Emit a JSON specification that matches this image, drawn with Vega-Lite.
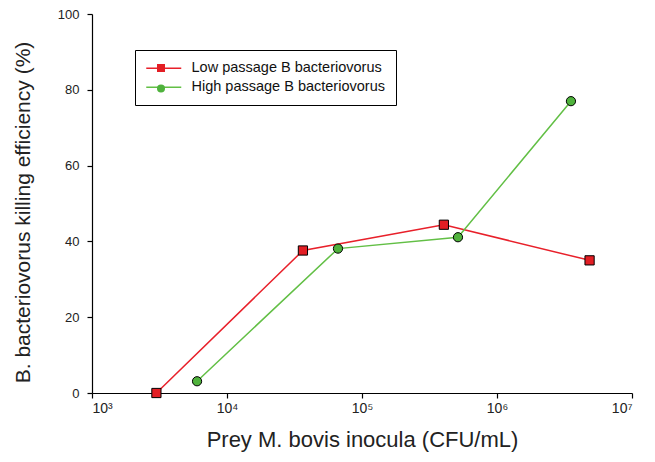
{
  "$schema": "https://vega.github.io/schema/vega-lite/v6.json",
  "autosize": "none",
  "width": 540,
  "height": 379,
  "padding": {"left": 92, "top": 14, "right": 23, "bottom": 69},
  "background": "white",
  "config": {
    "view": {"stroke": null},
    "font": "Liberation Sans",
    "axis": {"grid": false, "domainColor": "#000", "tickColor": "#000", "labelColor": "#222", "titleColor": "#222", "labelFont": "Liberation Sans", "titleFont": "Liberation Sans", "titleFontWeight": "normal", "labelFontSize": 13, "titleFontSize": 22, "domainWidth": 1.2, "tickWidth": 1.2}
  },
  "data": {
    "values": [
      {"series": "Low passage B bacteriovorus", "cfu": 3000, "eff": 0},
      {"series": "Low passage B bacteriovorus", "cfu": 36500, "eff": 37.6},
      {"series": "Low passage B bacteriovorus", "cfu": 404000, "eff": 44.4},
      {"series": "Low passage B bacteriovorus", "cfu": 4850000, "eff": 35.0},
      {"series": "High passage B bacteriovorus", "cfu": 6000, "eff": 3.1},
      {"series": "High passage B bacteriovorus", "cfu": 66400, "eff": 38.1},
      {"series": "High passage B bacteriovorus", "cfu": 514000, "eff": 41.1},
      {"series": "High passage B bacteriovorus", "cfu": 3530000, "eff": 77.0}
    ]
  },
  "encoding": {
    "x": {
      "field": "cfu", "type": "quantitative",
      "scale": {"type": "log", "domain": [1000, 10000000], "nice": false},
      "axis": {
        "values": [1000, 10000, 100000, 1000000, 10000000],
        "labelExpr": "'10' + ['⁰','¹','²','³','⁴','⁵','⁶','⁷'][round(log(datum.value)/LN10)]",
        "tickSize": 5, "labelPadding": 3, "titlePadding": 14, "labelFontSize": 14, "titleFontSize": 22,
        "title": "Prey M. bovis inocula (CFU/mL)"
      }
    },
    "y": {
      "field": "eff", "type": "quantitative",
      "scale": {"domain": [0, 100], "nice": false},
      "axis": {
        "values": [0, 20, 40, 60, 80, 100],
        "tickSize": 5, "labelPadding": 8, "titlePadding": 24, "titleFontSize": 21, "titleY": 198,
        "title": "B. bacteriovorus killing efficiency (%)"
      }
    }
  },
  "layer": [
    {
      "mark": {"type": "line", "strokeWidth": 1.5},
      "encoding": {
        "color": {
          "field": "series", "type": "nominal",
          "sort": ["Low passage B bacteriovorus", "High passage B bacteriovorus"],
          "scale": {"range": ["#e8202a", "#62bf45"]},
          "legend": {
            "title": null, "orient": "none", "legendX": 43, "legendY": 36,
            "symbolType": "M-1.75,0H7", "symbolSize": 64, "symbolStrokeWidth": 1.5,
            "labelFontSize": 14.5, "labelColor": "#111", "labelOffset": 31, "labelLimit": 400,
            "padding": 11, "rowPadding": 4,
            "strokeColor": "#000", "fillColor": "white"
          }
        }
      }
    },
    {
      "mark": {"type": "point", "filled": true, "size": 85, "stroke": "#000", "strokeWidth": 1, "opacity": 1},
      "encoding": {
        "fill": {
          "field": "series", "type": "nominal",
          "scale": {"domain": ["Low passage B bacteriovorus", "High passage B bacteriovorus"], "range": ["#e31e24", "#4fb23c"]},
          "legend": {
            "title": null, "orient": "none", "legendX": 53.5, "legendY": 38.5,
            "symbolSize": 64, "symbolStrokeColor": "#000", "symbolStrokeWidth": 1,
            "labelExpr": "''", "labelFontSize": 1, "labelOffset": 0, "padding": 11, "rowPadding": 7.5
          }
        },
        "shape": {
          "field": "series", "type": "nominal",
          "scale": {"domain": ["Low passage B bacteriovorus", "High passage B bacteriovorus"], "range": ["square", "circle"]},
          "legend": {
            "title": null, "orient": "none", "legendX": 53.5, "legendY": 38.5,
            "symbolSize": 64, "symbolStrokeColor": "#000", "symbolStrokeWidth": 1,
            "labelExpr": "''", "labelFontSize": 1, "labelOffset": 0, "padding": 11, "rowPadding": 7.5
          }
        }
      }
    }
  ]
}
